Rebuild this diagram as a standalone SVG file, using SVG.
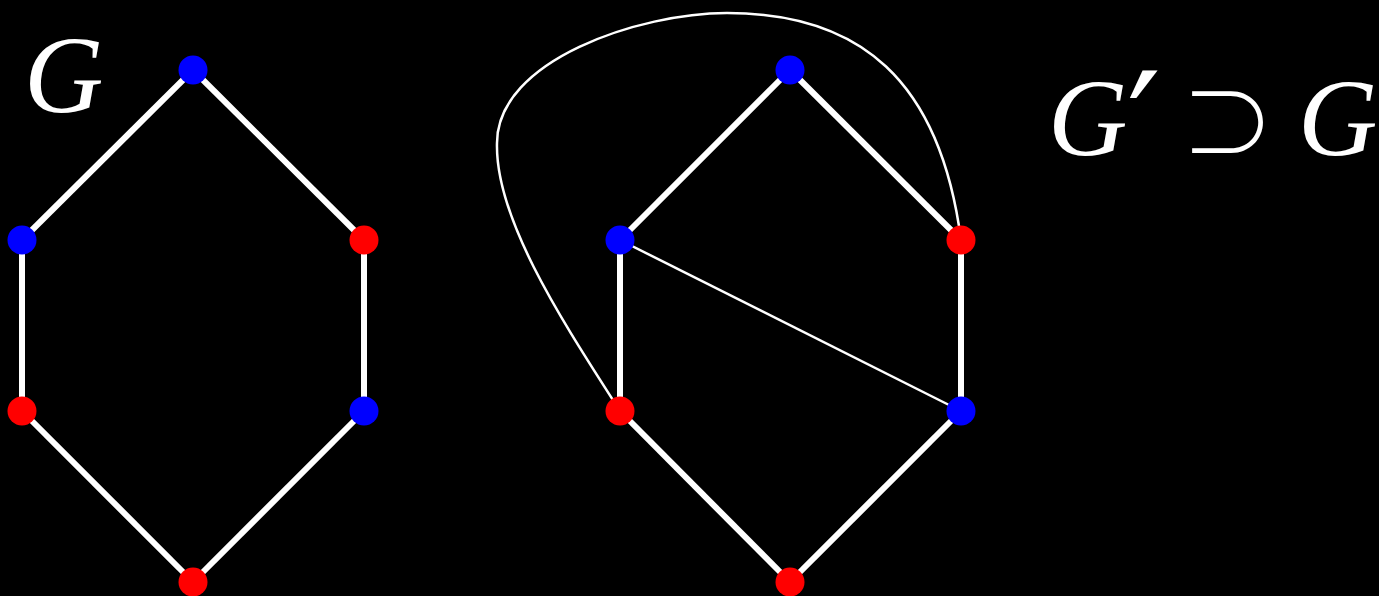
<svg xmlns="http://www.w3.org/2000/svg" width="1379" height="596" viewBox="0 0 1379 596">
<style>
.e{stroke:#fff;stroke-width:6;fill:none}
.t{stroke:#fff;stroke-width:2.5;fill:none}
.b{fill:#0000ff}
.r{fill:#ff0000}
.lbl{fill:#fff;font-family:"Liberation Serif",serif;font-style:italic;font-size:110px}
.pr{font-family:"DejaVu Serif",serif;font-style:normal;font-size:150px}
.sym{fill:#fff;font-family:"Noto Sans CJK JP",sans-serif;font-weight:300;font-size:95px}
</style>
<rect width="1379" height="596" fill="#000"/>
<g id="connectors">
<line class="e" x1="193" y1="70" x2="22" y2="240"/>
<line class="e" x1="193" y1="70" x2="364" y2="240"/>
<line class="e" x1="22" y1="240" x2="22" y2="411"/>
<line class="e" x1="364" y1="240" x2="364" y2="411"/>
<line class="e" x1="22" y1="411" x2="193" y2="582"/>
<line class="e" x1="364" y1="411" x2="193" y2="582"/>
<line class="e" x1="790" y1="70" x2="620" y2="240"/>
<line class="e" x1="790" y1="70" x2="961" y2="240"/>
<line class="e" x1="620" y1="240" x2="620" y2="411"/>
<line class="e" x1="961" y1="240" x2="961" y2="411"/>
<line class="e" x1="620" y1="411" x2="790" y2="582"/>
<line class="e" x1="961" y1="411" x2="790" y2="582"/>
<line class="t" x1="620" y1="240" x2="961" y2="411"/>
<path class="t" d="M620 411 C565 325 495 220 497 143 C497 60 640 13 727 13 C860 13 940 80 961 240"/>
</g>
<g id="n1"><circle class="b" cx="193" cy="70" r="14.5"/></g>
<g id="n2"><circle class="b" cx="22" cy="240" r="14.5"/></g>
<g id="n3"><circle class="r" cx="364" cy="240" r="14.5"/></g>
<g id="n4"><circle class="r" cx="22" cy="411" r="14.5"/></g>
<g id="n5"><circle class="b" cx="364" cy="411" r="14.5"/></g>
<g id="n6"><circle class="r" cx="193" cy="582" r="14.5"/></g>
<g id="m1"><circle class="b" cx="790" cy="70" r="14.5"/></g>
<g id="m2"><circle class="b" cx="620" cy="240" r="14.5"/></g>
<g id="m3"><circle class="r" cx="961" cy="240" r="14.5"/></g>
<g id="m4"><circle class="r" cx="620" cy="411" r="14.5"/></g>
<g id="m5"><circle class="b" cx="961" cy="411" r="14.5"/></g>
<g id="m6"><circle class="r" cx="790" cy="582" r="14.5"/></g>
<g id="label-G"><text class="lbl" x="24" y="112">G</text></g>
<g id="label-Gprime">
<text class="lbl" x="1048" y="155">G<tspan class="pr" x="1127" y="180">′</tspan></text>
<text class="sym" x="1180" y="158">⊃</text>
<text class="lbl" x="1298" y="155">G</text>
</g>
</svg>
